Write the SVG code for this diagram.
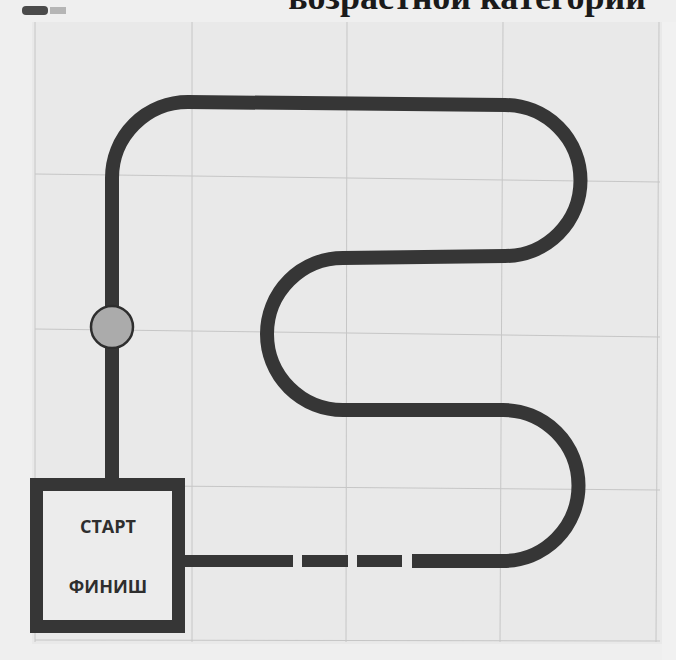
<svg xmlns="http://www.w3.org/2000/svg" width="676" height="660" viewBox="0 0 676 660">
  <style>
    .grid { stroke: #c6c6c6; stroke-width: 1; fill: none; }
    .track { stroke: #363636; stroke-width: 14; fill: none; stroke-linecap: butt; stroke-linejoin: round; }
    .seg { stroke: #363636; stroke-width: 12; fill: none; }
    .lbl { font-family: "Open Sans", "DejaVu Sans", sans-serif; font-weight: bold; font-size: 18px; fill: #2e2e2e; text-anchor: middle; }
    .title { font-family: "Liberation Serif", "DejaVu Serif", serif; font-weight: bold; font-size: 36px; fill: #1a1a1a; }
  </style>
  <!-- paper -->
  <rect x="0" y="0" width="676" height="660" fill="#efefef"/>
  <rect x="32" y="22" width="630" height="622" fill="#e9e9e9"/>
  <rect x="662" y="22" width="14" height="638" fill="#f1f1f1"/>
  <!-- title fragment (clipped at top, as in the reference) -->
  <text class="title" x="646" y="9" text-anchor="end">возрастной категории</text>
  <!-- logo -->
  <g id="logo">
    <rect x="22" y="6" width="26" height="9" rx="4" fill="#4a4a4a"/>
    <rect x="50" y="7" width="16" height="7" fill="#b5b5b5"/>
  </g>
  <!-- grid -->
  <g id="grid" class="grid">
    <line x1="35" y1="22" x2="35" y2="642"/>
    <line x1="192" y1="22" x2="192" y2="642"/>
    <line x1="347" y1="22" x2="346" y2="642"/>
    <line x1="503" y1="22" x2="500" y2="642"/>
    <line x1="659" y1="22" x2="656" y2="642"/>
    <line x1="35" y1="174" x2="660" y2="182"/>
    <line x1="35" y1="329" x2="660" y2="337"/>
    <line x1="35" y1="485" x2="660" y2="490"/>
    <line x1="35" y1="640" x2="660" y2="641"/>
  </g>
  <!-- connectors: the track -->
  <g id="connectors">
    <path class="track" d="M 112 480 L 112 178 A 76 76 0 0 1 188 102 L 505 105 A 75 75 0 0 1 505 256 L 343 258 A 76 76 0 0 0 343 410 L 503 410 A 75 75 0 0 1 503 561 L 412 561"/>
    <line class="seg" x1="357" y1="561" x2="402" y2="561"/>
    <line class="seg" x1="302" y1="561" x2="348" y2="561"/>
    <line class="seg" x1="184" y1="561" x2="293" y2="561"/>
  </g>
  <!-- start / finish box -->
  <g id="start-finish">
    <rect x="36.5" y="484.5" width="142" height="142" fill="#ececec" stroke="#363636" stroke-width="13"/>
    <text class="lbl" x="108" y="533">СТАРТ</text>
    <text class="lbl" x="108" y="593">ФИНИШ</text>
  </g>
  <!-- checkpoint -->
  <g id="checkpoint">
    <circle cx="112" cy="327" r="21" fill="#ababab" stroke="#2e2e2e" stroke-width="2.5"/>
  </g>
</svg>
